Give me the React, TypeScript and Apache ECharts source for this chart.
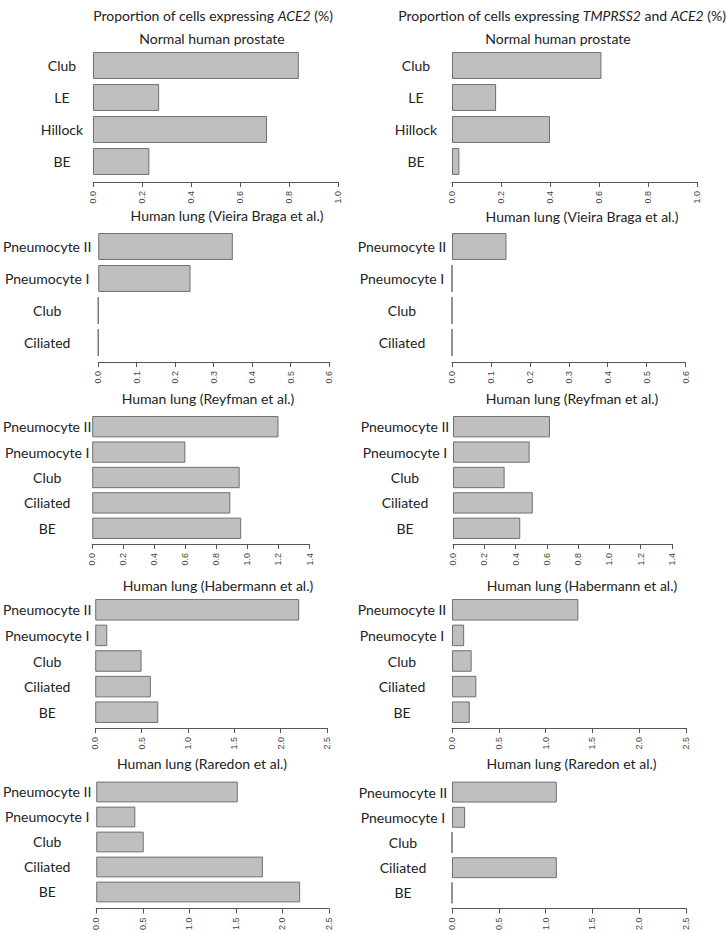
import React, { useEffect, useRef } from "react";
import * as echarts from "echarts";

const prostateCats = ["Club", "LE", "Hillock", "BE"];
const prostateACE2 = [0.84, 0.27, 0.71, 0.23];
const prostateBoth = [0.61, 0.18, 0.4, 0.03];

const vieiraCats = ["Pneumocyte II", "Pneumocyte I", "Club", "Ciliated"];
const vieiraACE2 = [0.35, 0.24, 0, 0];
const vieiraBoth = [0.14, 0, 0, 0];

const lungCats = ["Pneumocyte II", "Pneumocyte I", "Club", "Ciliated", "BE"];
const reyfmanACE2 = [1.2, 0.6, 0.95, 0.89, 0.96];
const reyfmanBoth = [0.62, 0.49, 0.33, 0.51, 0.43];
const habermannACE2 = [2.2, 0.13, 0.5, 0.6, 0.68];
const habermannBoth = [1.35, 0.13, 0.21, 0.26, 0.19];
const raredonACE2 = [1.52, 0.42, 0.51, 1.79, 2.19];
const raredonBoth = [1.12, 0.14, 0, 1.12, 0];

const panelTitles = [
  "Normal human prostate",
  "Human lung (Vieira Braga et al.)",
  "Human lung (Reyfman et al.)",
  "Human lung (Habermann et al.)",
  "Human lung (Raredon et al.)",
];

const FONT = "Lato, 'Open Sans', sans-serif";

type Panel = {
  cats: string[];
  values: number[];
  max: number;
  interval: number;
  left: number;
  width: number;
  top: number;
  height: number;
  offset: number;
  margin: number;
  gap: string;
  title: string;
  tx: number;
  ty: number;
};

const panels: Panel[] = [
  { cats: prostateCats, values: prostateACE2, max: 1.0, interval: 0.2, left: 93, width: 245, top: 49.5, height: 128, offset: 4.5, margin: 31, gap: "16%", title: panelTitles[0], tx: 212, ty: 38 },
  { cats: prostateCats, values: prostateBoth, max: 1.0, interval: 0.2, left: 452, width: 245, top: 49.5, height: 128, offset: 4.5, margin: 36, gap: "16%", title: panelTitles[0], tx: 558, ty: 38 },
  { cats: vieiraCats, values: vieiraACE2, max: 0.6, interval: 0.1, left: 96, width: 233, top: 230.5, height: 128, offset: 3.5, margin: 51, gap: "16%", title: panelTitles[1], tx: 227, ty: 215 },
  { cats: vieiraCats, values: vieiraBoth, max: 0.6, interval: 0.1, left: 452, width: 233.5, top: 230.5, height: 128, offset: 3.5, margin: 50, gap: "16%", title: panelTitles[1], tx: 582, ty: 216 },
  { cats: lungCats, values: reyfmanACE2, max: 1.4, interval: 0.2, left: 91, width: 218.5, top: 414, height: 127, offset: 3, margin: 45, gap: "16%", title: panelTitles[2], tx: 208, ty: 398 },
  { cats: lungCats, values: reyfmanBoth, max: 1.4, interval: 0.2, left: 453, width: 219, top: 414, height: 127, offset: 3, margin: 48, gap: "16%", title: panelTitles[2], tx: 572, ty: 398 },
  { cats: lungCats, values: habermannACE2, max: 2.5, interval: 0.5, left: 94, width: 233, top: 597, height: 128, offset: 3, margin: 48, gap: "16%", title: panelTitles[3], tx: 218, ty: 585 },
  { cats: lungCats, values: habermannBoth, max: 2.5, interval: 0.5, left: 452, width: 234, top: 597, height: 128, offset: 3, margin: 50, gap: "16%", title: panelTitles[3], tx: 582, ty: 585 },
  { cats: lungCats, values: raredonACE2, max: 2.5, interval: 0.5, left: 95.5, width: 233.5, top: 779.5, height: 126.5, offset: 4, margin: 49, gap: "17%", title: panelTitles[4], tx: 202, ty: 763 },
  { cats: lungCats, values: raredonBoth, max: 2.5, interval: 0.5, left: 452, width: 234, top: 779.5, height: 126.5, offset: 3, margin: 49, gap: "17%", title: panelTitles[4], tx: 571.5, ty: 763 },
];

export default function App() {
  const ref = useRef<HTMLDivElement>(null);
  useEffect(() => {
    if (!ref.current) return;
    const chart = echarts.init(ref.current, null, { renderer: "svg" });
    const axisColor = "#555";
    const option: any = {
      animation: false,
      backgroundColor: "#ffffff",
      grid: panels.map((p) => ({ left: p.left, top: p.top, width: p.width, height: p.height, containLabel: false })),
      xAxis: panels.map((p, i) => ({
        type: "value",
        gridIndex: i,
        min: 0,
        max: p.max,
        interval: p.interval,
        offset: p.offset,
        splitLine: { show: false },
        axisLine: { show: true, lineStyle: { color: axisColor, width: 1 } },
        axisTick: { show: true, length: 5, lineStyle: { color: axisColor } },
        axisLabel: {
          rotate: 90,
          margin: 9,
          fontSize: 9,
          color: "#444",
          fontFamily: "'Liberation Sans', Arial, sans-serif",
          formatter: (v: number) => v.toFixed(1),
        },
      })),
      yAxis: panels.map((p, i) => ({
        type: "category",
        gridIndex: i,
        data: p.cats,
        inverse: true,
        axisLine: { show: false },
        axisTick: { show: false },
        splitLine: { show: false },
        axisLabel: {
          align: "center",
          margin: p.margin,
          fontSize: 14,
          color: "#222",
          fontFamily: FONT,
        },
      })),
      series: panels.map((p, i) => ({
        type: "bar",
        xAxisIndex: i,
        yAxisIndex: i,
        data: p.values,
        barCategoryGap: p.gap,
        itemStyle: { color: "#bfbfbf", borderColor: "#6f6f6f", borderWidth: 1 },
        emphasis: { disabled: true },
      })),
      graphic: [
        {
          type: "text",
          x: 213,
          y: 15,
          style: {
            text: "Proportion of cells expressing {i|ACE2} (%)",
            align: "center",
            verticalAlign: "middle",
            fontSize: 14,
            fontFamily: FONT,
            fill: "#222",
            rich: { i: { fontStyle: "italic", fontSize: 14, fontFamily: FONT, fill: "#222" } },
          },
        },
        {
          type: "text",
          x: 562,
          y: 15,
          style: {
            text: "Proportion of cells expressing {i|TMPRSS2} and {i|ACE2} (%)",
            align: "center",
            verticalAlign: "middle",
            fontSize: 14,
            fontFamily: FONT,
            fill: "#222",
            rich: { i: { fontStyle: "italic", fontSize: 14, fontFamily: FONT, fill: "#222" } },
          },
        },
        ...panels.map((p) => ({
          type: "text",
          x: p.tx,
          y: p.ty,
          style: {
            text: p.title,
            align: "center",
            verticalAlign: "middle",
            fontSize: 14,
            fontFamily: FONT,
            fill: "#222",
          },
        })),
      ],
    };
    chart.setOption(option);
    return () => chart.dispose();
  }, []);
  return (
    <div
      ref={ref}
      style={{ position: "absolute", left: 0, top: 0, width: 726, height: 933, background: "#fff" }}
    />
  );
}
